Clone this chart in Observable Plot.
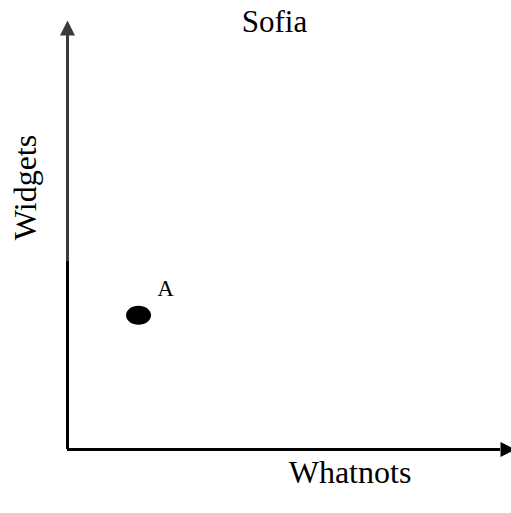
<!DOCTYPE html>
<html>
<head>
<meta charset="utf-8">
<script src="https://cdn.jsdelivr.net/npm/d3@7"></script>
<script src="https://cdn.jsdelivr.net/npm/@observablehq/plot@0.6"></script>
<style>
  html, body { margin: 0; padding: 0; background: #fff; }
  #chart svg { display: block; }
</style>
</head>
<body>
<div id="chart"></div>
<script>
// ---- data ----
const titleText = "Sofia";
const xLabelText = "Whatnots";
const yLabelText = "Widgets";
const pointLabels = ["A"];
const pointX = [1.64];
const pointY = [3.24];
const xDomain = [0, 10];
const yDomain = [0, 10];
const ySplit = 4.54; // where the y axis line changes from black to dark gray

const points = pointLabels.map((label, i) => ({label, x: pointX[i], y: pointY[i]}));

// ---- custom symbols ----
const arrowUp = {draw(ctx) { ctx.moveTo(0, -15); ctx.lineTo(7.5, 0); ctx.lineTo(-7.5, 0); ctx.closePath(); }};
const arrowRight = {draw(ctx) { ctx.moveTo(15, 0); ctx.lineTo(0, -7.5); ctx.lineTo(0, 7.5); ctx.closePath(); }};
const ellipse = {draw(ctx) {
  const rx = 12.5, ry = 9.5, k = 0.5523;
  ctx.moveTo(rx, 0);
  ctx.bezierCurveTo(rx, ry * k, rx * k, ry, 0, ry);
  ctx.bezierCurveTo(-rx * k, ry, -rx, ry * k, -rx, 0);
  ctx.bezierCurveTo(-rx, -ry * k, -rx * k, -ry, 0, -ry);
  ctx.bezierCurveTo(rx * k, -ry, rx, -ry * k, rx, 0);
  ctx.closePath();
}};

const serif = "Liberation Serif, Times New Roman, serif";

const chart = Plot.plot({
  width: 511,
  height: 513,
  marginLeft: 67,
  marginRight: 11,
  marginTop: 35,
  marginBottom: 64,
  style: {fontFamily: serif, background: "#fff", overflow: "hidden"},
  x: {domain: xDomain, axis: null},
  y: {domain: yDomain, axis: null},
  marks: [
    // x axis line and arrow
    Plot.ruleY([yDomain[0]], {x1: xDomain[0], x2: xDomain[1], stroke: "#000", strokeWidth: 3}),
    Plot.dot([{x: xDomain[1], y: yDomain[0]}], {x: "x", y: "y", symbol: arrowRight, fill: "#000", stroke: "none"}),
    // y axis line (two tones) and arrow
    Plot.ruleX([xDomain[0]], {y1: ySplit, y2: yDomain[1], stroke: "#3a3a3a", strokeWidth: 3}),
    Plot.ruleX([xDomain[0]], {y1: yDomain[0], y2: ySplit, stroke: "#000", strokeWidth: 3}),
    Plot.dot([{x: xDomain[0], y: yDomain[1]}], {x: "x", y: "y", symbol: arrowUp, fill: "#3a3a3a", stroke: "none"}),
    // point
    Plot.dot(points, {x: "x", y: "y", symbol: ellipse, fill: "#000", stroke: "none"}),
    Plot.text(points, {x: "x", y: "y", text: "label", dx: 27, dy: -27, fontSize: 23, fontFamily: serif, fill: "#000"}),
    // title
    Plot.text([titleText], {frameAnchor: "top", lineAnchor: "bottom", textAnchor: "middle", dx: -9.5, dy: -4, fontSize: 31, fontFamily: serif, fill: "#000"}),
    // x label
    Plot.text([xLabelText], {frameAnchor: "bottom", lineAnchor: "bottom", textAnchor: "middle", dx: 66, dy: 33, fontSize: 32, fontFamily: serif, fill: "#000"}),
    // y label
    Plot.text([yLabelText], {frameAnchor: "left", lineAnchor: "bottom", textAnchor: "middle", rotate: -90, dx: -32, dy: -55, fontSize: 32, fontFamily: serif, fill: "#000"})
  ]
});

document.getElementById("chart").appendChild(chart);
</script>
</body>
</html>
